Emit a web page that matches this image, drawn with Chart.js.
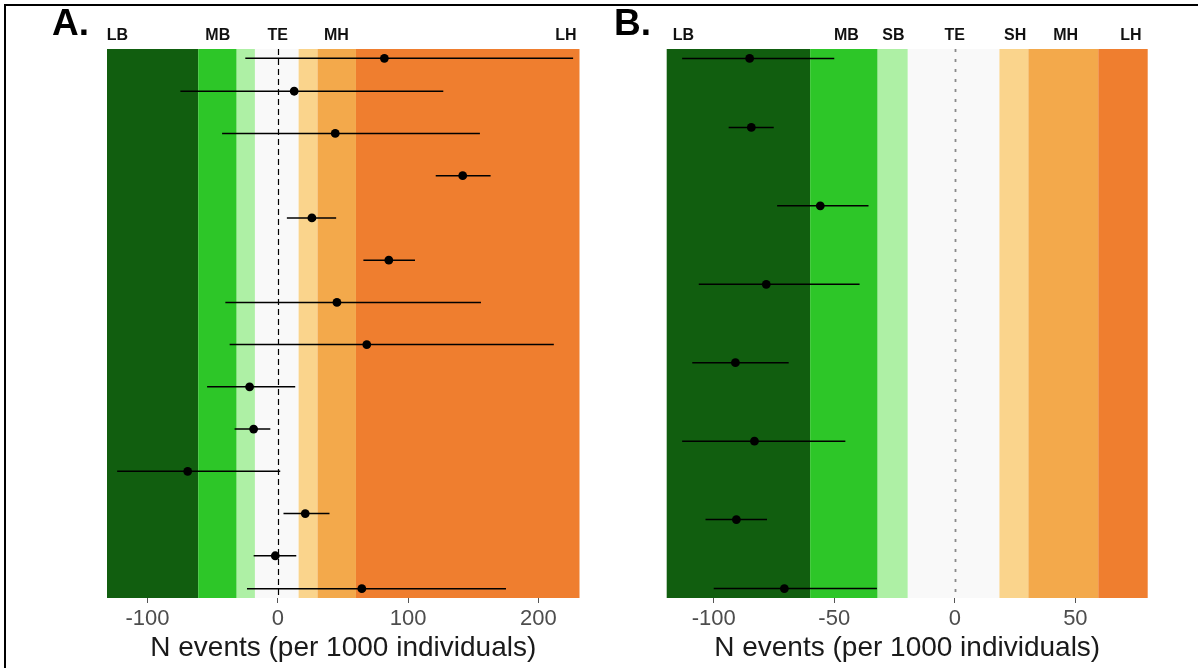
<!DOCTYPE html>
<html>
<head>
<meta charset="utf-8">
<script src="https://cdn.jsdelivr.net/npm/chart.js@4.4.1/dist/chart.umd.min.js"></script>
<style>
  html, body { margin: 0; padding: 0; background: #fff; }
  #wrap { position: relative; width: 1198px; height: 668px; overflow: hidden; }
  #chartA { position: absolute; left: 0; top: 0; }
  #chartB { position: absolute; left: 600px; top: 0; }
  .rule { position: absolute; background: #000; }
</style>
</head>
<body>
<div id="wrap">
  <div class="rule" style="left:4px; top:4px; width:1194px; height:2px;"></div>
  <div class="rule" style="left:4px; top:4px; width:2px; height:664px;"></div>
  <canvas id="chartA" width="600" height="668"></canvas>
  <canvas id="chartB" width="598" height="668"></canvas>
</div>
<script>
// ---- panel A ----
const rowA  = [1.22, 2, 3, 4, 5, 6, 7, 8, 9, 10, 11, 12, 13, 13.78];
const meanA = [81.8, 12.6, 44.1, 141.9, 26.2, 85.2, 45.4, 68.3, -21.6, -18.5, -69.1, 21.1, -1.9, 64.5];
const loA   = [-24.9, -74.7, -42.7, 121.2, 7.0, 65.7, -40.2, -36.9, -54.2, -33.1, -123.2, 4.4, -18.5, -23.6];
const hiA   = [226.6, 127.0, 155.1, 163.3, 44.8, 105.3, 155.9, 211.8, 13.4, -5.7, 1.9, 39.7, 14.2, 175.1];
const bandEdgesA = [-131, -61, -31.5, -17.5, 16, 30.5, 60, 231.5];
const ticksA = [-100, 0, 100, 200];
const zoneLabelsA = ['LB', 'MB', 'TE', 'MH', 'LH'];
const zonePosA = [-123, -46, 0, 45, 221];

// ---- panel B ----
const rowB  = [1.12, 2, 3, 4, 5, 6, 7, 7.88];
const meanB = [-85.1, -84.4, -55.8, -78.2, -91.0, -83.1, -90.6, -70.7];
const loB   = [-113.1, -93.8, -73.7, -106.2, -108.9, -113.1, -103.4, -100.0];
const hiB   = [-50.0, -75.1, -35.8, -39.5, -68.9, -45.4, -77.9, -32.3];
const bandEdgesB = [-119.5, -60, -32, -19.5, 18.5, 30.5, 59.5, 80];
const ticksB = [-100, -50, 0, 50];
const zoneLabelsB = ['LB', 'MB', 'SB', 'TE', 'SH', 'MH', 'LH'];
const zonePosB = [-112.6, -45, -25.5, 0, 25, 46, 73];

// LB, MB, SB, TE, SH, MH, LH
const bandColors = ['#115e0f', '#2dc628', '#aef0a5', '#f9f9f9', '#fad48c', '#f3a94b', '#ef7e2f'];

const FONT = '"Liberation Sans", Arial, sans-serif';

const forestPlugin = {
    id: 'forest',
    beforeDatasetsDraw(chart, args, opts) {
        const { ctx, chartArea: a, scales: { x, y } } = chart;
        ctx.save();
        // zone bands
        for (let i = 0; i < opts.edges.length - 1; i++) {
            const x0 = x.getPixelForValue(opts.edges[i]);
            const x1 = x.getPixelForValue(opts.edges[i + 1]);
            ctx.fillStyle = bandColors[i];
            ctx.fillRect(x0, a.top, x1 - x0, a.bottom - a.top);
        }
        // zero reference line
        const zx = Math.round(x.getPixelForValue(0)) + 0.5;
        ctx.strokeStyle = opts.zeroColor;
        ctx.lineWidth = opts.zeroWidth;
        ctx.setLineDash(opts.zeroDash);
        ctx.beginPath();
        ctx.moveTo(zx, a.top);
        ctx.lineTo(zx, a.bottom);
        ctx.stroke();
        ctx.setLineDash([]);
        // error bars
        ctx.strokeStyle = '#000';
        ctx.lineWidth = 1.5;
        opts.rows.forEach((r, i) => {
            const py = y.getPixelForValue(r);
            ctx.beginPath();
            ctx.moveTo(x.getPixelForValue(opts.lo[i]), py);
            ctx.lineTo(x.getPixelForValue(opts.hi[i]), py);
            ctx.stroke();
        });
        ctx.restore();
    },
    afterDraw(chart, args, opts) {
        const { ctx, chartArea: a, scales: { x } } = chart;
        ctx.save();
        ctx.fillStyle = '#111';
        ctx.textAlign = 'center';
        ctx.textBaseline = 'alphabetic';
        ctx.font = 'bold 16px ' + FONT;
        opts.labels.forEach((t, i) => {
            ctx.fillText(t, x.getPixelForValue(opts.labelPos[i]), a.top - 9);
        });
        ctx.textAlign = 'left';
        ctx.font = 'bold 37px ' + FONT;
        ctx.fillStyle = '#000';
        ctx.fillText(opts.letter, opts.letterX, 35);
        ctx.restore();
    }
};

function makeChart(id, p) {
    return new Chart(document.getElementById(id), {
        type: 'scatter',
        data: {
            datasets: [{
                data: p.mean.map((m, i) => ({ x: m, y: p.rows[i] })),
                backgroundColor: '#000',
                borderWidth: 0,
                pointRadius: 4.4,
                pointHoverRadius: 4.4
            }]
        },
        options: {
            responsive: false,
            animation: false,
            events: [],
            layout: { padding: { left: p.padL, right: p.padR, top: 49, bottom: 0 } },
            plugins: {
                legend: { display: false },
                tooltip: { enabled: false },
                forest: {
                    edges: p.edges, rows: p.rows, lo: p.lo, hi: p.hi,
                    labels: p.labels, labelPos: p.labelPos,
                    letter: p.letter, letterX: p.letterX,
                    zeroColor: p.zeroColor, zeroWidth: p.zeroWidth, zeroDash: p.zeroDash
                }
            },
            scales: {
                x: {
                    type: 'linear',
                    min: p.edges[0],
                    max: p.edges[p.edges.length - 1],
                    afterBuildTicks: (s) => { s.ticks = p.ticks.map(v => ({ value: v })); },
                    afterFit: (s) => { s.height = 70; },
                    grid: { drawOnChartArea: false, drawTicks: true, tickLength: 5, color: '#555', tickWidth: 1 },
                    border: { display: false },
                    ticks: { font: { family: FONT, size: 22 }, color: '#4d4d4d', padding: 3, maxRotation: 0 },
                    title: {
                        display: true,
                        text: 'N events (per 1000 individuals)',
                        font: { family: FONT, size: 28 },
                        color: '#1a1a1a',
                        padding: { top: 0, bottom: 3 }
                    }
                },
                y: {
                    type: 'linear',
                    display: false,
                    reverse: true,
                    min: 1,
                    max: p.rowMax
                }
            }
        },
        plugins: [forestPlugin]
    });
}

makeChart('chartA', {
    rows: rowA, mean: meanA, lo: loA, hi: hiA, edges: bandEdgesA, ticks: ticksA,
    labels: zoneLabelsA, labelPos: zonePosA, rowMax: 14,
    letter: 'A.', letterX: 52, padL: 107, padR: 20.5,
    zeroColor: '#000', zeroWidth: 1.2, zeroDash: [6, 4]
});

makeChart('chartB', {
    rows: rowB, mean: meanB, lo: loB, hi: hiB, edges: bandEdgesB, ticks: ticksB,
    labels: zoneLabelsB, labelPos: zonePosB, rowMax: 8,
    letter: 'B.', letterX: 14, padL: 66.7, padR: 50.3,
    zeroColor: '#8a8a8a', zeroWidth: 1.8, zeroDash: [3, 7]
});
</script>
</body>
</html>
